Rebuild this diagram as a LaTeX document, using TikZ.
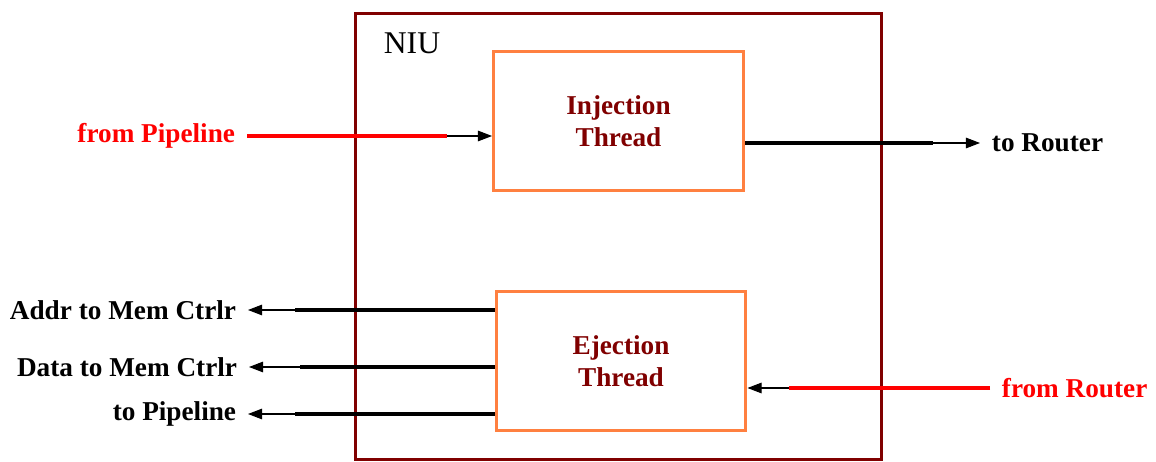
\documentclass[tikz,border=0pt]{standalone}
\usepackage{fontspec}
\setmainfont{Liberation Serif}
\usetikzlibrary{arrows.meta}
\definecolor{NiuRed}{HTML}{800000}
\definecolor{NiuOrange}{HTML}{FF8040}
\definecolor{NiuSignal}{HTML}{FF0000}

\begin{document}
\begin{tikzpicture}[x=0.02cm,y=-0.02cm,line join=miter,
    thread/.style={draw=NiuOrange,line width=1.7pt,minimum width=5cm,minimum height=2.78cm,
      align=center,text=NiuRed,font=\fontsize{15.5}{18.5}\selectfont\bfseries},
    sig/.style={inner sep=0pt,outer sep=6.8pt,font=\fontsize{15.5}{18}\selectfont\bfseries},
    wire/.style={line width=2.3pt},redwire/.style={wire,NiuSignal},
    tip/.style={line width=0.6pt,-{Triangle[length=8pt,width=6pt]}}]
  \useasboundingbox (0,0) rectangle (1156,462);
  \node[draw=NiuRed,line width=1.7pt,minimum width=10.52cm,minimum height=8.92cm] (niu) at (618.5,236.5) {};
  \node[font=\fontsize{18}{20}\selectfont] (niulabel) at (412,43) {NIU};
  \node[thread] (inj) at (618.5,121) {Injection\\Thread};
  \node[thread] (ej) at (621,361) {Ejection\\Thread};
  \node[sig,text=NiuSignal,anchor=east] (pipein) at (247,136) {from Pipeline};
  \node[sig,anchor=west] (torouter) at (980,143) {to Router};
  \node[sig,anchor=east] (addr) at (248,310) {Addr to Mem Ctrlr};
  \node[sig,anchor=east] (data) at (249,367) {Data to Mem Ctrlr};
  \node[sig,anchor=east] (topipe) at (248,414) {to Pipeline};
  \node[sig,text=NiuSignal,anchor=west] (fromrouter) at (990,388) {from Router};
  \coordinate (pj) at (447,136);\coordinate (rj) at (933,143);\coordinate (fj) at (789,388);
  \coordinate (aj) at (295,310);\coordinate (dj) at (300,367);\coordinate (tj) at (295,414);
  \draw[redwire] (pipein) -- (pj);\draw[tip] (pj) -- (pj -| inj.west);
  \draw[wire] (torouter -| inj.east) -- (rj);\draw[tip] (rj) -- (torouter);
  \draw[redwire] (fromrouter) -- (fj);\draw[tip] (fj) -- (fj -| ej.east);
  \draw[wire] (addr -| ej.west) -- (aj);\draw[tip] (aj) -- (addr);
  \draw[wire] (data -| ej.west) -- (dj);\draw[tip] (dj) -- (data);
  \draw[wire] (topipe -| ej.west) -- (tj);\draw[tip] (tj) -- (topipe);
\end{tikzpicture}
\end{document}
